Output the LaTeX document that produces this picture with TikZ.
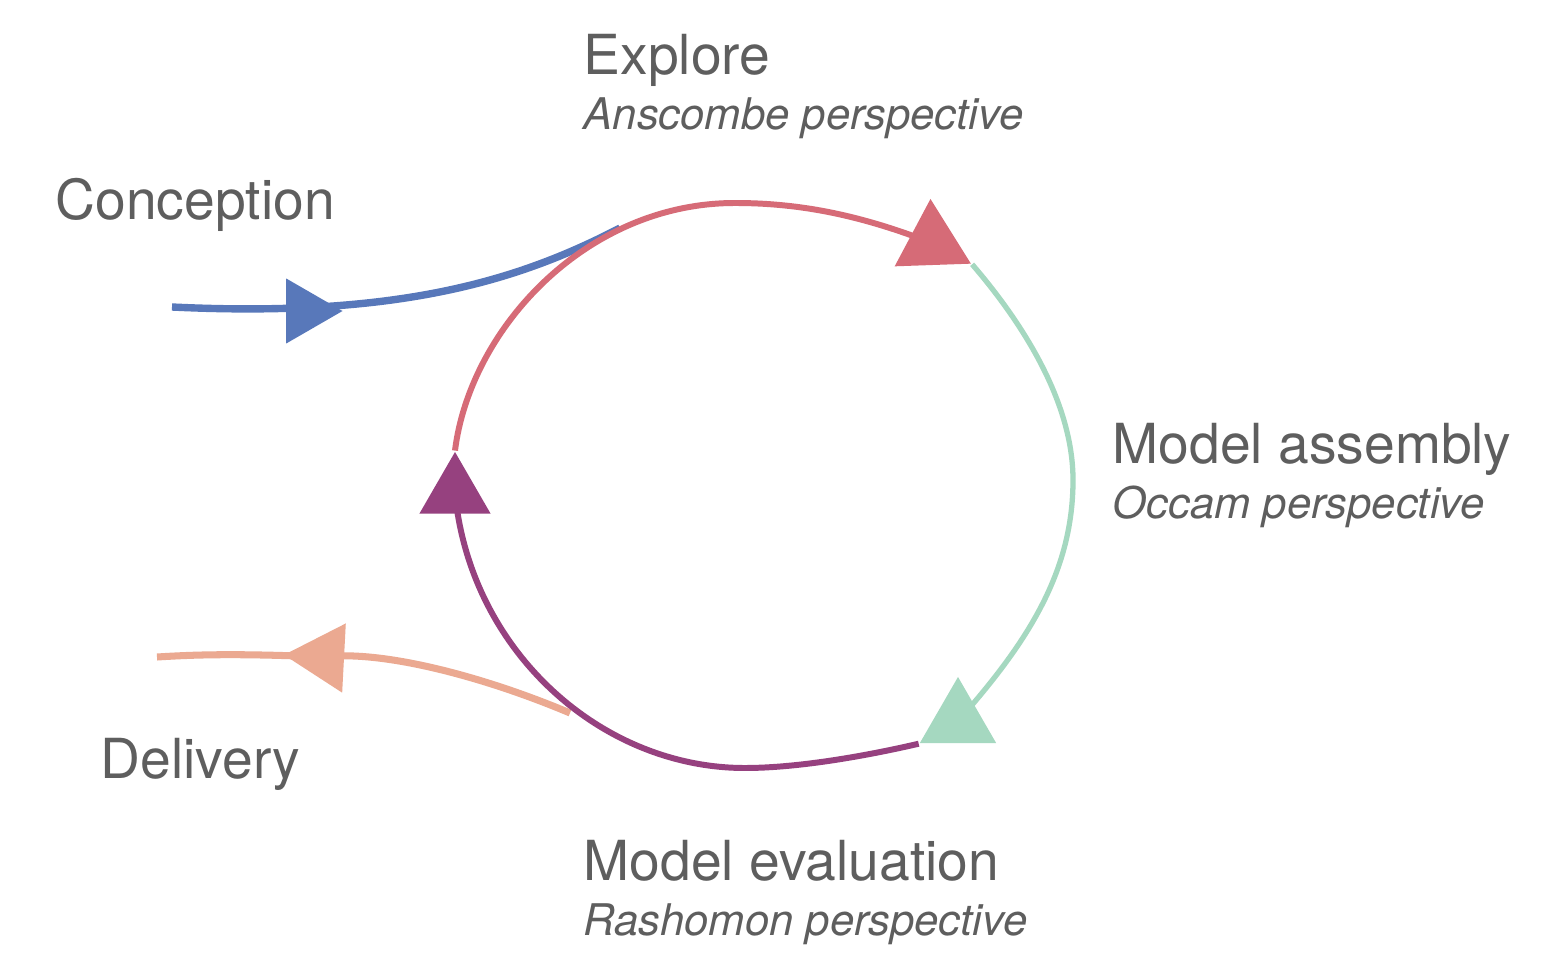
\documentclass[tikz,border=0pt]{standalone}
\usepackage{fontspec}
\setmainfont{TeX Gyre Heros}
\usetikzlibrary{shapes.geometric,backgrounds}
\definecolor{conblue}{HTML}{5878BA}
\definecolor{explred}{HTML}{D66B77}
\definecolor{assgreen}{HTML}{A5D8C0}
\definecolor{evalpurple}{HTML}{96417F}
\definecolor{delsalmon}{HTML}{EBA991}
\definecolor{labelgray}{HTML}{5E5E5E}
\tikzset{
    head/.style ={
        anchor=base west,
        inner sep=0pt,
        text=labelgray,
        font=\fontsize{15.7}{18}\selectfont
    },
    sub/.style ={
        anchor=base west,
        inner sep=0pt,
        text=labelgray,
        font=\fontsize{12.4}{15}\selectfont\itshape
    },
    marker/.style ={
        shape=regular polygon,
        regular polygon sides=3,
        inner sep=0pt,
        minimum size=0.88cm
    }
}

\begin{document}
\begin{tikzpicture}[x=0.01cm, y=-0.01cm]
    \useasboundingbox (0,0) rectangle (1552,964);
    \node[head] (explore) at (583,75) {Explore};
    \node[sub] (anscombe) at (583,130) {Anscombe perspective};
    \node[head] (conception) at (55,220) {Conception};
    \node[head] (assembly) at (1112,463) {Model assembly};
    \node[sub] (occam) at (1112,518) {Occam perspective};
    \node[head] (delivery) at (100,778) {Delivery};
    \node[head] (evaluation) at (583,880) {Model evaluation};
    \node[sub] (rashomon) at (583,935) {Rashomon perspective};
    % markers
    \node[marker, fill=explred, rotate=2] (explTri) at (932,243) {};
    \node[marker, fill=assgreen] (assTri) at (958,721) {};
    \node[marker, fill=evalpurple, minimum size=0.82cm] (evalTri) at (455,493) {};
    \node[marker, fill=conblue, rotate=-90, minimum size=0.75cm] (conTri) at (305,311) {};
    \node[marker, fill=delsalmon, rotate=87, minimum size=0.8cm] (delTri) at (324,657) {};
    \coordinate (conStart) at (172,307);
    \coordinate (conJoin) at (620,228);
    \coordinate (delJoin) at (570,713);
    \coordinate (delEnd) at (157,657);
    \begin{pgfonlayer}{background}
        \fill[white] (0,0) rectangle (1552,964);
        \draw[conblue, line width=2.1pt] (conStart) .. controls (400,318) and (520,280) .. (conJoin);
        \draw[delsalmon, line width=2pt] (delJoin) .. controls (480,675) and (380,650) .. (delTri.center)
            .. controls (230,653) and (190,655) .. (delEnd);
        \draw[explred, line width=1.7pt] (evalTri.corner 1) .. controls (470,330) and (585,203) .. (735,203)
            .. controls (800,203) and (860,215) .. (explTri.center);
        \draw[assgreen, line width=1.5pt] (explTri.corner 3) .. controls (1020,320) and (1073,400) .. (1073,480)
            .. controls (1073,570) and (1030,640) .. (assTri.center);
        \draw[evalpurple, line width=1.7pt] (assTri.corner 2) .. controls (870,755) and (800,768) .. (745,768)
            .. controls (600,768) and (470,650) .. (evalTri.center);
    \end{pgfonlayer}
\end{tikzpicture}
\end{document}
